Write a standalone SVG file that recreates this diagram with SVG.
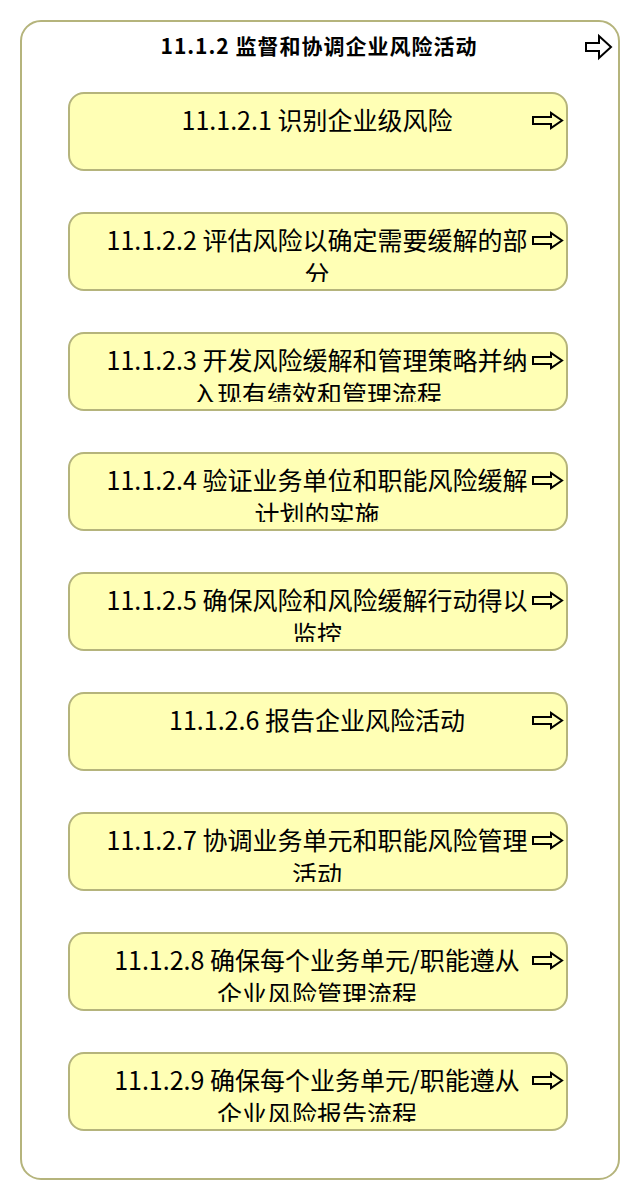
<svg xmlns="http://www.w3.org/2000/svg" width="640" height="1200" viewBox="0 0 640 1200">
<style>
.outer{fill:#ffffff;stroke:#b5b47c;stroke-width:2}
.box{fill:#ffffb5;stroke:#b5b47c;stroke-width:2}
.t{font-family:"Noto Sans CJK SC","Noto Sans",sans-serif;font-size:25px;fill:#000;text-anchor:middle}
.title{font-family:"Noto Sans CJK SC","Noto Sans",sans-serif;font-size:21px;font-weight:bold;letter-spacing:1px;fill:#000;text-anchor:middle}
.arr{fill:none;stroke:#000;stroke-width:2;stroke-linejoin:miter}
</style>
<defs>
<clipPath id="clip"><rect x="0" y="0" width="498" height="69"/></clipPath>
<path id="ar" d="M0,4 H18 V0 L29,7.5 L18,15 V11 H0 Z"/>
</defs>
<g id="container">
<rect class="outer" x="21" y="21" width="598" height="1158" rx="20" ry="20"/>
<text class="title" x="319" y="54">11.1.2 监督和协调企业风险活动</text>
<path class="arr" d="M586,43 H599 V36 L611,47 L599,58 V51 H586 Z"/>
</g>
<g id="connectors"></g>
<g id="n1" transform="translate(69,93)">
<rect class="box" x="0" y="0" width="498" height="77" rx="15" ry="15"/>
<g clip-path="url(#clip)"><text class="t" x="248" y="37">11.1.2.1 识别企业级风险</text></g>
<use href="#ar" class="arr" x="464" y="20"/>
</g>
<g id="n2" transform="translate(69,213)">
<rect class="box" x="0" y="0" width="498" height="77" rx="15" ry="15"/>
<g clip-path="url(#clip)"><text class="t" x="248" y="37">11.1.2.2 评估风险以确定需要缓解的部</text><text class="t" x="248" y="71">分</text></g>
<use href="#ar" class="arr" x="464" y="20"/>
</g>
<g id="n3" transform="translate(69,333)">
<rect class="box" x="0" y="0" width="498" height="77" rx="15" ry="15"/>
<g clip-path="url(#clip)"><text class="t" x="248" y="37">11.1.2.3 开发风险缓解和管理策略并纳</text><text class="t" x="248" y="71">入现有绩效和管理流程</text></g>
<use href="#ar" class="arr" x="464" y="20"/>
</g>
<g id="n4" transform="translate(69,453)">
<rect class="box" x="0" y="0" width="498" height="77" rx="15" ry="15"/>
<g clip-path="url(#clip)"><text class="t" x="248" y="37">11.1.2.4 验证业务单位和职能风险缓解</text><text class="t" x="248" y="71">计划的实施</text></g>
<use href="#ar" class="arr" x="464" y="20"/>
</g>
<g id="n5" transform="translate(69,573)">
<rect class="box" x="0" y="0" width="498" height="77" rx="15" ry="15"/>
<g clip-path="url(#clip)"><text class="t" x="248" y="37">11.1.2.5 确保风险和风险缓解行动得以</text><text class="t" x="248" y="71">监控</text></g>
<use href="#ar" class="arr" x="464" y="20"/>
</g>
<g id="n6" transform="translate(69,693)">
<rect class="box" x="0" y="0" width="498" height="77" rx="15" ry="15"/>
<g clip-path="url(#clip)"><text class="t" x="248" y="37">11.1.2.6 报告企业风险活动</text></g>
<use href="#ar" class="arr" x="464" y="20"/>
</g>
<g id="n7" transform="translate(69,813)">
<rect class="box" x="0" y="0" width="498" height="77" rx="15" ry="15"/>
<g clip-path="url(#clip)"><text class="t" x="248" y="37">11.1.2.7 协调业务单元和职能风险管理</text><text class="t" x="248" y="71">活动</text></g>
<use href="#ar" class="arr" x="464" y="20"/>
</g>
<g id="n8" transform="translate(69,933)">
<rect class="box" x="0" y="0" width="498" height="77" rx="15" ry="15"/>
<g clip-path="url(#clip)"><text class="t" x="248" y="37">11.1.2.8 确保每个业务单元/职能遵从</text><text class="t" x="248" y="71">企业风险管理流程</text></g>
<use href="#ar" class="arr" x="464" y="20"/>
</g>
<g id="n9" transform="translate(69,1053)">
<rect class="box" x="0" y="0" width="498" height="77" rx="15" ry="15"/>
<g clip-path="url(#clip)"><text class="t" x="248" y="37">11.1.2.9 确保每个业务单元/职能遵从</text><text class="t" x="248" y="71">企业风险报告流程</text></g>
<use href="#ar" class="arr" x="464" y="20"/>
</g>
</svg>
